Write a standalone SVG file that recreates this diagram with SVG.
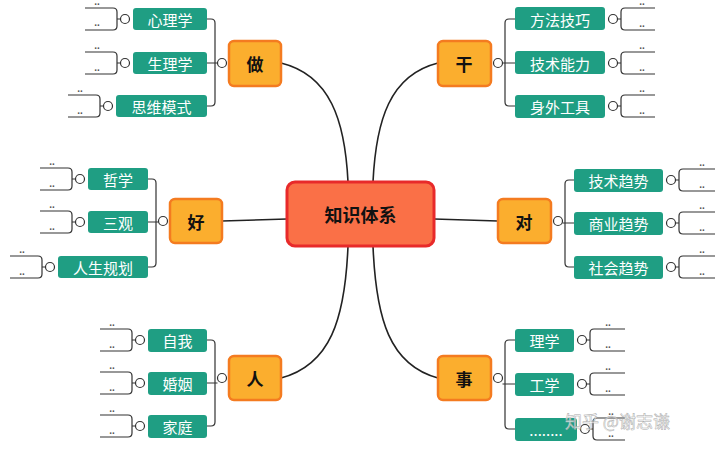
<svg xmlns="http://www.w3.org/2000/svg" width="720" height="451" viewBox="0 0 720 451">
<style>
.n{fill:#FBAE2E;stroke:#F47B20;stroke-width:2.5}
.lf{fill:#1F9E83}
.t{font-family:"Noto Sans CJK SC","Noto Sans",sans-serif;font-size:15px;fill:#fff;text-anchor:middle;dominant-baseline:central}
.nt{font-family:"Noto Sans CJK SC",sans-serif;font-size:17px;font-weight:bold;fill:#111;text-anchor:middle;dominant-baseline:central}
.c{fill:none;stroke:#222;stroke-width:1.6}
.k{fill:none;stroke:#333;stroke-width:1.2}
.o{fill:#fff;stroke:#333;stroke-width:1.2}
.d{font-family:"Liberation Sans",sans-serif;font-size:10px;font-weight:bold;fill:#555;text-anchor:middle}
</style>
<g id="connectors">
<path class="c" d="M281,63 C330,75 345,120 348,182"/>
<path class="c" d="M438,63 C390,75 376,120 373,182"/>
<path class="c" d="M222,221 L287,219"/>
<path class="c" d="M434,219 L498,221"/>
<path class="c" d="M281,378 C330,365 345,320 348,246"/>
<path class="c" d="M438,378 C390,365 376,320 373,246"/>
<path class="k" d="M207,19 H211 q4,0 4,4 V102 q0,4 -4,4 H207 M207,63 H217.5"/>
<path class="k" d="M148,179 H152 q4,0 4,4 V263 q0,4 -4,4 H148 M148,222 H158.5"/>
<path class="k" d="M207,340 H211 q4,0 4,4 V422 q0,4 -4,4 H207 M207,383 H217.5"/>
<path class="k" d="M515,19 H509 q-4,0 -4,4 V102 q0,4 4,4 H515 M515,63 H502.5"/>
<path class="k" d="M574,180 H569 q-4,0 -4,4 V263 q0,4 4,4 H574 M574,223 H562.5"/>
<path class="k" d="M515,340 H509 q-4,0 -4,4 V425 q0,4 4,4 H515 M515,384 H502.5"/>
<g id="lb">
<path class="k" d="M125,19 H117 M85,8 H113 q4,0 4,4 V26 q0,4 -4,4 H85"/>
<path class="k" d="M125,63 H117 M85,52 H113 q4,0 4,4 V70 q0,4 -4,4 H85"/>
<path class="k" d="M108,106 H100 M68,95 H96 q4,0 4,4 V113 q0,4 -4,4 H68"/>
<path class="k" d="M80,179 H72 M40,168 H68 q4,0 4,4 V186 q0,4 -4,4 H40"/>
<path class="k" d="M80,222 H72 M40,211 H68 q4,0 4,4 V229 q0,4 -4,4 H40"/>
<path class="k" d="M50,267 H42 M10,256 H38 q4,0 4,4 V274 q0,4 -4,4 H10"/>
<path class="k" d="M140,340 H132 M100,329 H128 q4,0 4,4 V347 q0,4 -4,4 H100"/>
<path class="k" d="M140,383 H132 M100,372 H128 q4,0 4,4 V390 q0,4 -4,4 H100"/>
<path class="k" d="M140,426 H132 M100,415 H128 q4,0 4,4 V433 q0,4 -4,4 H100"/>
</g>
<g id="rb">
<path class="k" d="M613,19 H621 M655,8 H625 q-4,0 -4,4 V26 q0,4 4,4 H655"/>
<path class="k" d="M613,63 H621 M655,52 H625 q-4,0 -4,4 V70 q0,4 4,4 H655"/>
<path class="k" d="M613,106 H621 M655,95 H625 q-4,0 -4,4 V113 q0,4 4,4 H655"/>
<path class="k" d="M671,180 H679 M715,169 H683 q-4,0 -4,4 V187 q0,4 4,4 H715"/>
<path class="k" d="M671,223 H679 M715,212 H683 q-4,0 -4,4 V230 q0,4 4,4 H715"/>
<path class="k" d="M671,267 H679 M715,256 H683 q-4,0 -4,4 V274 q0,4 4,4 H715"/>
<path class="k" d="M582,340 H590 M625,329 H594 q-4,0 -4,4 V347 q0,4 4,4 H625"/>
<path class="k" d="M582,384 H590 M625,373 H594 q-4,0 -4,4 V391 q0,4 4,4 H625"/>
<path class="k" d="M585,429 H593 M625,418 H597 q-4,0 -4,4 V436 q0,4 4,4 H625"/>
</g>
<g id="circles">
<circle class="o" cx="222" cy="63" r="4.5"/><circle class="o" cx="163" cy="221" r="4.5"/><circle class="o" cx="222" cy="378" r="4.5"/>
<circle class="o" cx="498" cy="63" r="4.5"/><circle class="o" cx="558" cy="221" r="4.5"/><circle class="o" cx="498" cy="378" r="4.5"/>
<circle class="o" cx="125" cy="19" r="4.5"/><circle class="o" cx="125" cy="63" r="4.5"/><circle class="o" cx="108" cy="106" r="4.5"/>
<circle class="o" cx="80" cy="179" r="4.5"/><circle class="o" cx="80" cy="222" r="4.5"/><circle class="o" cx="50" cy="267" r="4.5"/>
<circle class="o" cx="140" cy="340" r="4.5"/><circle class="o" cx="140" cy="383" r="4.5"/><circle class="o" cx="140" cy="426" r="4.5"/>
<circle class="o" cx="613" cy="19" r="4.5"/><circle class="o" cx="613" cy="63" r="4.5"/><circle class="o" cx="613" cy="106" r="4.5"/>
<circle class="o" cx="671" cy="180" r="4.5"/><circle class="o" cx="671" cy="223" r="4.5"/><circle class="o" cx="671" cy="267" r="4.5"/>
<circle class="o" cx="582" cy="340" r="4.5"/><circle class="o" cx="582" cy="384" r="4.5"/><circle class="o" cx="585" cy="429" r="4.5"/>
</g>
</g>
<g id="dots" class="d">
<text x="97" y="5">..</text><text x="97" y="26">..</text><text x="97" y="49">..</text><text x="97" y="71">..</text><text x="80" y="92">..</text><text x="80" y="114">..</text>
<text x="52" y="165">..</text><text x="52" y="187">..</text><text x="52" y="208">..</text><text x="52" y="230">..</text><text x="22" y="253">..</text><text x="22" y="275">..</text>
<text x="112" y="326">..</text><text x="112" y="348">..</text><text x="112" y="369">..</text><text x="112" y="391">..</text><text x="112" y="412">..</text><text x="112" y="434">..</text>
<text x="642" y="5">..</text><text x="642" y="27">..</text><text x="642" y="49">..</text><text x="642" y="71">..</text><text x="642" y="92">..</text><text x="642" y="114">..</text>
<text x="702" y="166">..</text><text x="702" y="188">..</text><text x="702" y="209">..</text><text x="702" y="231">..</text><text x="702" y="253">..</text><text x="702" y="275">..</text>
<text x="608" y="326">..</text><text x="608" y="348">..</text><text x="608" y="370">..</text><text x="608" y="392">..</text><text x="611" y="415">..</text><text x="611" y="437">..</text>
</g>
<g id="center"><rect x="287" y="182" width="147" height="64" rx="8" fill="#FA7047" stroke="#E82A2A" stroke-width="3"/><text class="nt" x="360.5" y="214" style="font-size:18px">知识体系</text></g>
<g id="n-zuo"><rect class="n" x="229" y="41" width="52" height="45" rx="5"/><text class="nt" x="255" y="63">做</text></g>
<g id="n-gan"><rect class="n" x="438" y="41" width="53" height="45" rx="5"/><text class="nt" x="464" y="63">干</text></g>
<g id="n-hao"><rect class="n" x="170" y="199" width="52" height="44" rx="5"/><text class="nt" x="196" y="221">好</text></g>
<g id="n-dui"><rect class="n" x="498" y="199" width="53" height="44" rx="5"/><text class="nt" x="524" y="221">对</text></g>
<g id="n-ren"><rect class="n" x="229" y="356" width="52" height="44" rx="5"/><text class="nt" x="255" y="378">人</text></g>
<g id="n-shi"><rect class="n" x="438" y="356" width="53" height="44" rx="5"/><text class="nt" x="464" y="378">事</text></g>
<g id="leaves">
<g id="l1"><rect class="lf" x="133" y="8" width="74" height="22" rx="3"/><text class="t" x="170" y="19">心理学</text></g>
<g id="l2"><rect class="lf" x="133" y="52" width="74" height="22" rx="3"/><text class="t" x="170" y="63">生理学</text></g>
<g id="l3"><rect class="lf" x="116" y="95" width="91" height="22" rx="3"/><text class="t" x="161.5" y="106">思维模式</text></g>
<g id="l4"><rect class="lf" x="88" y="168" width="60" height="22" rx="3"/><text class="t" x="118" y="179">哲学</text></g>
<g id="l5"><rect class="lf" x="88" y="211" width="60" height="22" rx="3"/><text class="t" x="118" y="222">三观</text></g>
<g id="l6"><rect class="lf" x="58" y="256" width="90" height="22" rx="3"/><text class="t" x="103" y="267">人生规划</text></g>
<g id="l7"><rect class="lf" x="148" y="329" width="59" height="23" rx="3"/><text class="t" x="177.5" y="340">自我</text></g>
<g id="l8"><rect class="lf" x="148" y="372" width="59" height="23" rx="3"/><text class="t" x="177.5" y="383">婚姻</text></g>
<g id="l9"><rect class="lf" x="148" y="415" width="59" height="23" rx="3"/><text class="t" x="177.5" y="426">家庭</text></g>
<g id="r1"><rect class="lf" x="515" y="7" width="90" height="23" rx="3"/><text class="t" x="560" y="19">方法技巧</text></g>
<g id="r2"><rect class="lf" x="515" y="51" width="90" height="23" rx="3"/><text class="t" x="560" y="63">技术能力</text></g>
<g id="r3"><rect class="lf" x="515" y="95" width="90" height="23" rx="3"/><text class="t" x="560" y="106">身外工具</text></g>
<g id="r4"><rect class="lf" x="574" y="169" width="89" height="23" rx="3"/><text class="t" x="618.5" y="180">技术趋势</text></g>
<g id="r5"><rect class="lf" x="574" y="212" width="89" height="23" rx="3"/><text class="t" x="618.5" y="223">商业趋势</text></g>
<g id="r6"><rect class="lf" x="574" y="256" width="89" height="23" rx="3"/><text class="t" x="618.5" y="267">社会趋势</text></g>
<g id="r7"><rect class="lf" x="515" y="329" width="59" height="23" rx="3"/><text class="t" x="544.5" y="340">理学</text></g>
<g id="r8"><rect class="lf" x="515" y="373" width="59" height="23" rx="3"/><text class="t" x="544.5" y="384">工学</text></g>
<g id="r9"><rect class="lf" x="515" y="418" width="62" height="23" rx="3"/><text class="t" x="546" y="429">........</text></g>
</g>
<text x="565" y="428" style="font-family:'Noto Sans CJK SC',sans-serif;font-size:17px;fill:#fff;fill-opacity:0.7;stroke:#aaa;stroke-width:0.5">知乎 @谢志谦</text>
</svg>
